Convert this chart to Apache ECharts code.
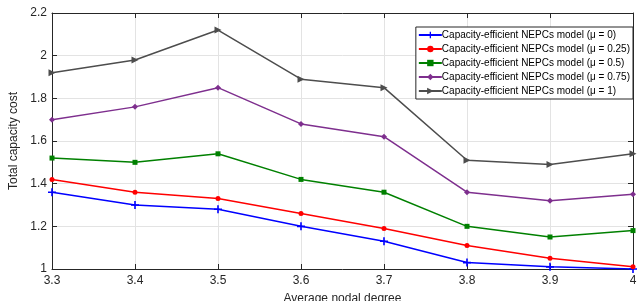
<!DOCTYPE html>
<html>
<head>
<meta charset="utf-8">
<script src="https://cdn.jsdelivr.net/npm/echarts@6/dist/echarts.min.js"></script>
<style>
html, body { margin: 0; padding: 0; background: #fff; }
#chart-container { width: 638px; height: 301px; }
</style>
</head>
<body>
<div id="chart-container"></div>
<script>
// data
let degrees = ['3.3', '3.4', '3.5', '3.6', '3.7', '3.8', '3.9', '4']
let mu0    = [1.36, 1.30, 1.28, 1.20, 1.13, 1.03, 1.01, 1.00]
let mu025  = [1.42, 1.36, 1.33, 1.26, 1.19, 1.11, 1.05, 1.01]
let mu05   = [1.52, 1.50, 1.54, 1.42, 1.36, 1.20, 1.15, 1.18]
let mu075  = [1.70, 1.76, 1.85, 1.68, 1.62, 1.36, 1.32, 1.35]
let mu1    = [1.92, 1.98, 2.12, 1.89, 1.85, 1.51, 1.49, 1.54]
let seriesNames = [
    'Capacity-efficient NEPCs model (\u03bc = 0)',
    'Capacity-efficient NEPCs model (\u03bc = 0.25)',
    'Capacity-efficient NEPCs model (\u03bc = 0.5)',
    'Capacity-efficient NEPCs model (\u03bc = 0.75)',
    'Capacity-efficient NEPCs model (\u03bc = 1)'
]

let font = 'Arial, "Liberation Sans", sans-serif'
let axisColor = '#262626'
let plus = 'path://M4,0H6V4H10V6H6V10H4V6H0V4H4Z'
let triRight = 'path://M0,0L10,5L0,10Z'

function makeSeries(name, data, color, symbol, size) {
    return {
        name: name,
        type: 'line',
        data: data,
        symbol: symbol,
        symbolSize: size,
        showAllSymbol: true,
        lineStyle: { color: color, width: 1.5 },
        itemStyle: { color: color },
        emphasis: { disabled: true },
        animation: false,
        z: 3
    }
}

let dom = document.getElementById('chart-container')
let myChart = echarts.init(dom, null, { renderer: 'canvas' })

let option = {
    animation: false,
    grid: { left: 52, right: 5, top: 13, bottom: 32, containLabel: false, outerBoundsMode: 'none' },
    legend: {
        orient: 'vertical',
        right: 5,
        top: 27,
        padding: [3, 3, 3, 2],
        itemGap: 4,
        itemWidth: 23,
        itemHeight: 8,
        backgroundColor: '#fff',
        borderColor: axisColor,
        borderWidth: 1,
        borderRadius: 0,
        textStyle: { fontFamily: font, fontSize: 10, color: '#000', padding: [0, 0, 0, -5] },
        data: seriesNames
    },
    xAxis: [
        {
            type: 'category',
            data: degrees,
            boundaryGap: false,
            name: 'Average nodal degree',
            nameLocation: 'middle',
            nameGap: 24,
            nameTextStyle: { fontFamily: font, fontSize: 12, color: axisColor },
            axisLine: { lineStyle: { color: axisColor, width: 1 } },
            axisTick: { inside: true, length: 5, lineStyle: { color: axisColor } },
            axisLabel: { fontFamily: font, fontSize: 12, color: axisColor, margin: 6, interval: 0 },
            splitLine: { show: true, lineStyle: { color: '#e3e3e3', width: 1 } }
        },
        {
            type: 'category',
            data: degrees,
            boundaryGap: false,
            position: 'top',
            axisLine: { lineStyle: { color: axisColor, width: 1 } },
            axisTick: { inside: true, length: 5, lineStyle: { color: axisColor } },
            axisLabel: { show: false },
            splitLine: { show: false }
        }
    ],
    yAxis: [
        {
            type: 'value',
            min: 1,
            max: 2.2,
            interval: 0.2,
            name: 'Total capacity cost',
            nameLocation: 'middle',
            nameGap: 28,
            nameTextStyle: { fontFamily: font, fontSize: 12, color: axisColor },
            axisLine: { show: true, lineStyle: { color: axisColor, width: 1 } },
            axisTick: { show: true, inside: true, length: 5, lineStyle: { color: axisColor } },
            axisLabel: {
                fontFamily: font, fontSize: 12, color: axisColor, margin: 5,
                formatter: function (v) { return String(+v.toFixed(1)) }
            },
            splitLine: { show: true, lineStyle: { color: '#e3e3e3', width: 1 } }
        },
        {
            type: 'value',
            min: 1,
            max: 2.2,
            interval: 0.2,
            position: 'right',
            axisLine: { show: true, lineStyle: { color: axisColor, width: 1 } },
            axisTick: { show: true, inside: true, length: 5, lineStyle: { color: axisColor } },
            axisLabel: { show: false },
            splitLine: { show: false }
        }
    ],
    series: [
        makeSeries(seriesNames[0], mu0, '#0000ff', plus, 8),
        makeSeries(seriesNames[1], mu025, '#ff0000', 'circle', 5),
        makeSeries(seriesNames[2], mu05, '#008000', 'rect', 5),
        makeSeries(seriesNames[3], mu075, '#7e2f8e', 'diamond', 6),
        makeSeries(seriesNames[4], mu1, '#4d4d4d', triRight, 7)
    ]
}

myChart.setOption(option)
</script>
</body>
</html>
